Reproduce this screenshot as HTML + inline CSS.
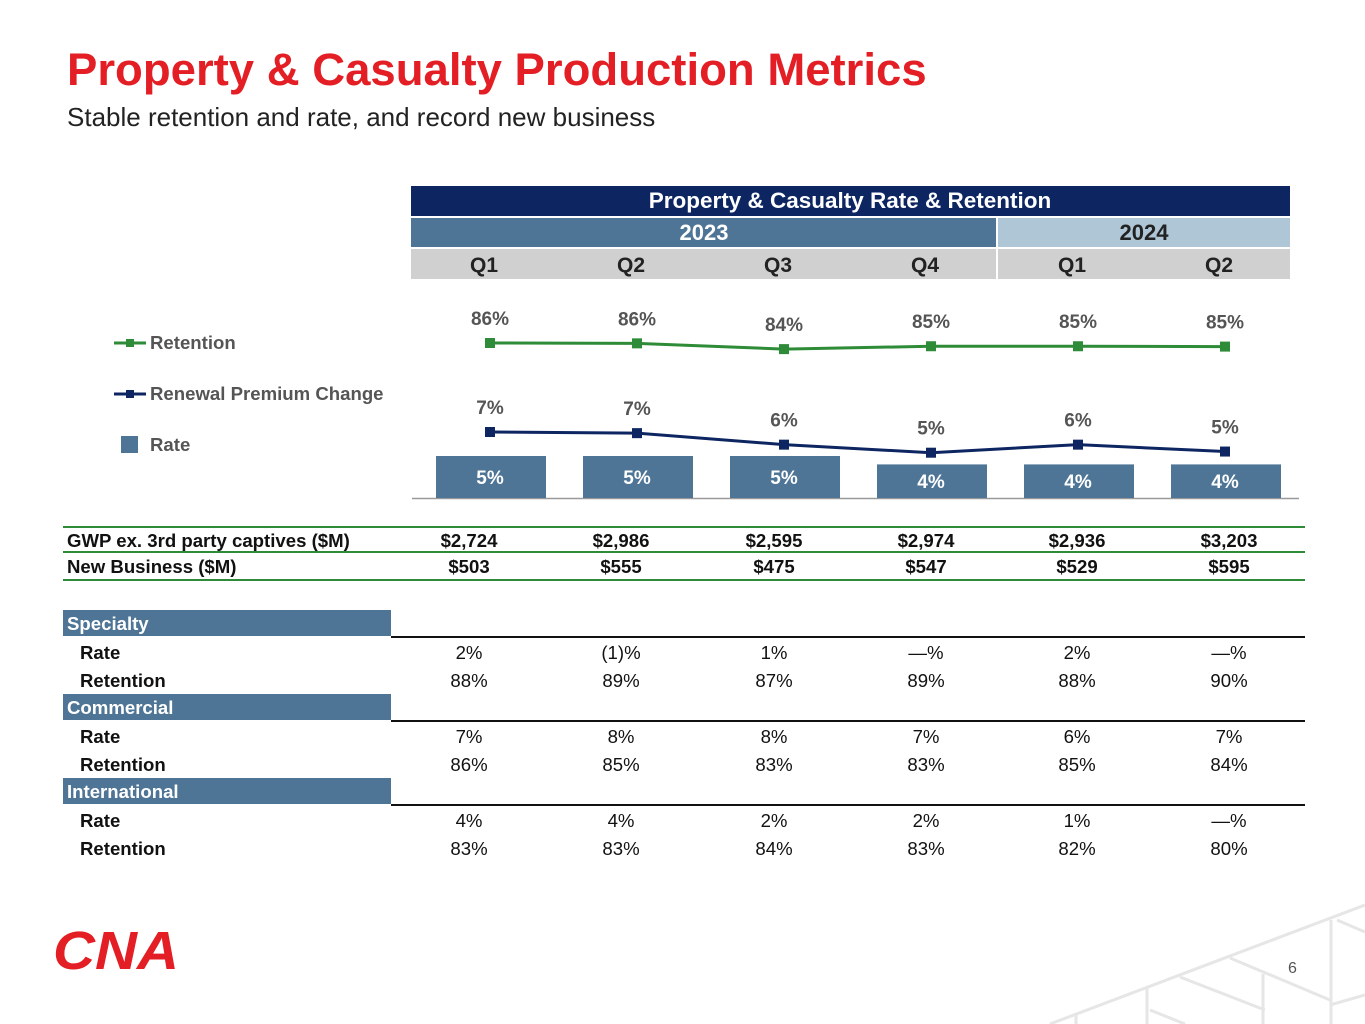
<!DOCTYPE html>
<html><head><meta charset="utf-8"><style>
body{margin:0;width:1365px;height:1024px;position:relative;overflow:hidden;background:#fff;font-family:"Liberation Sans",sans-serif}
.a{position:absolute}
.t{position:absolute;transform:translate(-50%,-50%);white-space:nowrap}
.b{font-weight:bold}
</style></head><body>
<svg class="a" style="left:0;top:0" width="1365" height="1024">
<g stroke="#e6e6e6" stroke-width="3" fill="none">
<line x1="1050" y1="1024" x2="1365" y2="905"/>
<line x1="1076" y1="1024" x2="1076" y2="1015"/>
<line x1="1147" y1="988" x2="1147" y2="1024"/>
<line x1="1150" y1="1010" x2="1185" y2="1024"/>
<line x1="1180" y1="977" x2="1265" y2="1010"/>
<line x1="1263" y1="974" x2="1263" y2="1024"/>
<line x1="1230" y1="958" x2="1330" y2="1000"/>
<line x1="1331" y1="920" x2="1331" y2="1024"/>
<line x1="1337" y1="920" x2="1365" y2="932"/>
<line x1="1330" y1="1005" x2="1365" y2="995"/>
</g></svg>
<div class="a b" style="left:67px;top:44px;font-size:45.5px;color:#e31e24;white-space:nowrap">Property &amp; Casualty Production Metrics</div>
<div class="a" style="left:67px;top:102px;font-size:26px;color:#222;white-space:nowrap">Stable retention and rate, and record new business</div>

<div class="a" style="left:411px;top:186px;width:879px;height:30px;background:#0d2561"></div>
<div class="t b" style="left:850px;top:201px;font-size:22.5px;color:#fff">Property &amp; Casualty Rate &amp; Retention</div>
<div class="a" style="left:411px;top:218px;width:585px;height:29px;background:#4f7596"></div>
<div class="t b" style="left:704px;top:233px;font-size:22px;color:#fff">2023</div>
<div class="a" style="left:998px;top:218px;width:292px;height:29px;background:#aec6d6"></div>
<div class="t b" style="left:1144px;top:233px;font-size:22px;color:#222">2024</div>
<div class="a" style="left:411px;top:249px;width:585px;height:30px;background:#d0d0d0"></div>
<div class="a" style="left:998px;top:249px;width:292px;height:30px;background:#d0d0d0"></div>

<svg class="a" id="chart" style="left:0;top:0" width="1365" height="1024"></svg>

<svg class="a" style="left:0;top:0" width="400" height="470">
<g><line x1="114" y1="343" x2="146" y2="343" stroke="#2e8b37" stroke-width="3"/><rect x="126" y="339" width="8" height="8" fill="#2e8b37"/></g>
<g><line x1="114" y1="394" x2="146" y2="394" stroke="#0d2561" stroke-width="3"/><rect x="126" y="390" width="8" height="8" fill="#0d2561"/></g>
<rect x="121" y="436" width="17" height="17" fill="#4f7596"/>
</svg>
<div class="a b" style="left:150px;top:332px;font-size:18.6px;color:#555">Retention</div>
<div class="a b" style="left:150px;top:383px;font-size:18.6px;color:#555;white-space:nowrap">Renewal Premium Change</div>
<div class="a b" style="left:150px;top:434px;font-size:18.6px;color:#555">Rate</div>

<div id="tbl"></div>

<svg class="a" style="left:52px;top:928px" width="130" height="42">
<text x="64" y="41" text-anchor="middle" font-family="Liberation Sans" font-weight="bold" font-style="italic" font-size="54" fill="#e31e24" textLength="126" lengthAdjust="spacingAndGlyphs">CNA</text>
</svg>
<div class="a" style="left:1288px;top:960px;font-size:16px;color:#555">6</div>

<script>
const quarters=["Q1","Q2","Q3","Q4","Q1","Q2"];
const retention=[86.1,86.0,84.4,85.2,85.2,85.1];
const retentionLabels=["86%","86%","84%","85%","85%","85%"];
const renewal=[7.1,7.0,6.0,5.3,6.0,5.4];
const renewalLabels=["7%","7%","6%","5%","6%","5%"];
const rate=[5.0,5.0,5.0,4.0,4.0,4.0];
const rateLabels=["5%","5%","5%","4%","4%","4%"];
const gwp=["$2,724","$2,986","$2,595","$2,974","$2,936","$3,203"];
const newBiz=["$503","$555","$475","$547","$529","$595"];
const segments=["Specialty","Commercial","International"];
const segRate=[["2%","(1)%","1%","—%","2%","—%"],["7%","8%","8%","7%","6%","7%"],["4%","4%","2%","2%","1%","—%"]];
const segRet=[["88%","89%","87%","89%","88%","90%"],["86%","85%","83%","83%","85%","84%"],["83%","83%","84%","83%","82%","80%"]];

const xC=i=>490+i*147;
const yRet=v=>343+(86.1-v)*3.6;
const yRen=v=>432+(7.1-v)*11.5;
const yBar=v=>498-v*8.4;
const NS="http://www.w3.org/2000/svg";
const svg=document.getElementById('chart');
function mk(tag,at){const e=document.createElementNS(NS,tag);for(const k in at)e.setAttribute(k,at[k]);svg.appendChild(e);return e;}
function txt(x,y,s,fill,size){const e=mk('text',{x:x,y:y,'text-anchor':'middle','font-family':'Liberation Sans','font-weight':'bold','font-size':size,fill:fill});e.textContent=s;return e;}
quarters.forEach((q,i)=>{const t=txt(xC(i)-6,272,q,'#222',21);

});
mk('line',{x1:412,y1:498.5,x2:1299,y2:498.5,stroke:'#999','stroke-width':1.5});
rate.forEach((v,i)=>{const r=mk('rect',{x:xC(i)-54,y:yBar(v),width:110,height:498-yBar(v),fill:'#4f7596'});


const t=txt(xC(i),(yBar(v)+498)/2+7,rateLabels[i],'#fff',19);

});
function series(vals,labels,yf,color,name,dy){
 const p=mk('polyline',{points:vals.map((v,i)=>xC(i)+','+yf(v)).join(' '),fill:'none',stroke:color,'stroke-width':3});
 
 
 vals.forEach((v,i)=>{const m=mk('rect',{x:xC(i)-5,y:yf(v)-5,width:10,height:10,fill:color});
 
 
 const t=txt(xC(i),yf(v)-dy,labels[i],'#555',19);
 
 });
}
series(retention,retentionLabels,yRet,'#2e8b37','retention',18);
series(renewal,renewalLabels,yRen,'#0d2561','renewal-premium-change',18);

const cols=[469,621,774,926,1077,1229];
let h='';
function line(y,color,x1,x2,w){h+=`<div class="a" style="left:${x1}px;top:${y}px;width:${x2-x1}px;height:${w}px;background:${color}"></div>`;}
function row(y,label,vals,bold,name,lx){h+=`<div class="a${bold?' b':''}" style="left:${lx}px;top:${y-11}px;font-size:18.6px;color:#111;font-weight:bold;white-space:nowrap">${label}</div>`;
vals.forEach((v,i)=>{h+=`<div class="t${bold?' b':''}" style="left:${cols[i]}px;top:${y}px;font-size:18.6px;color:#111">${v}</div>`;});}
line(526,'#2e8b37',63,1305,2);line(551,'#2e8b37',63,1305,2);line(579,'#2e8b37',63,1305,2);
row(541,'GWP ex. 3rd party captives ($M)',gwp,true,'gwp',67);
row(567,'New Business ($M)',newBiz,true,'new-business',67);
segments.forEach((s,k)=>{const y=610+k*84;
h+=`<div class="a b" style="left:63px;top:${y}px;width:324px;height:26px;padding-left:4px;background:#4f7596;color:#fff;font-size:18.6px;line-height:28px">${s}</div>`;
line(y+26,'#111',391,1305,2);
row(y+43,'Rate',segRate[k],false,'segment-rate',80);
row(y+71,'Retention',segRet[k],false,'segment-retention',80);});
document.getElementById('tbl').innerHTML=h;
</script>
</body></html>
